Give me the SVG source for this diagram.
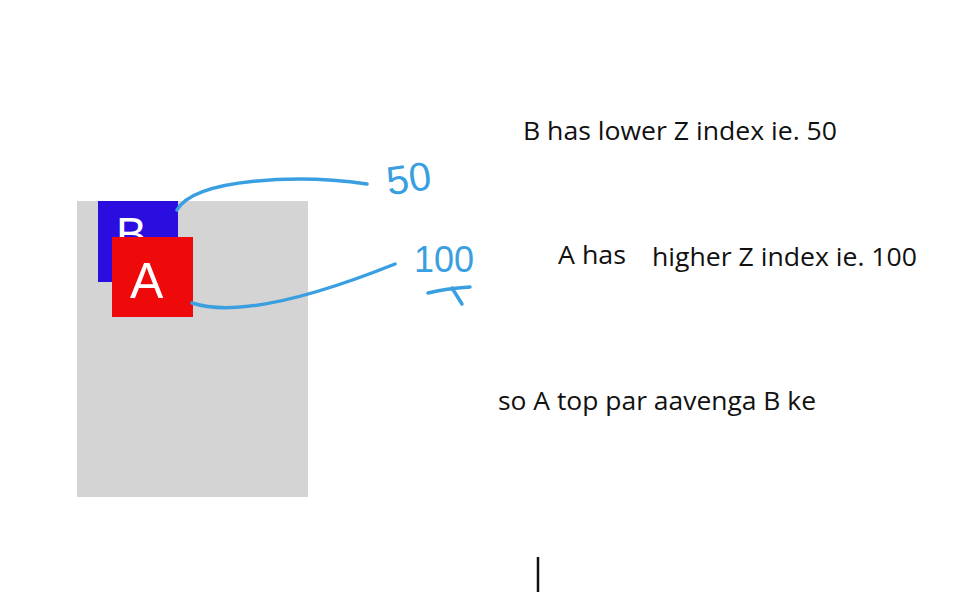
<svg xmlns="http://www.w3.org/2000/svg" width="975" height="595" viewBox="0 0 975 595">
<style>
.t{font-family:"Open Sans","Liberation Sans",sans-serif;font-size:26px;fill:#111}
.hw{font-family:"Liberation Sans",sans-serif;fill:#3a9fe0}
.ink{fill:none;stroke:#3a9fe0;stroke-width:3.5;stroke-linecap:round}
</style>
<rect width="975" height="595" fill="#fff"/>
<g id="container"><rect x="77" y="201" width="231" height="296" fill="#d4d4d4"/></g>
<g id="nodeB"><rect x="98" y="201" width="80" height="81" fill="#2a0ee0"/><text x="116" y="250" font-family="Liberation Sans,sans-serif" font-size="46" fill="#fff">B</text></g>
<g id="nodeA"><rect x="112" y="237" width="81" height="80" fill="#ee0a0a"/><text x="130" y="298" font-family="Liberation Sans,sans-serif" font-size="50" fill="#fff">A</text></g>
<g id="connectors">
<path class="ink" d="M177,210 C195,178 300,174 367,184"/>
<path class="ink" d="M192,303 C232,316 300,302 395,264"/>
<path class="ink" d="M428,293 C440,290 455,288 470,287 M452,288 L462,304"/>
</g>
<g id="labels">
<text class="hw" x="386" y="192" font-size="40" transform="rotate(-8 410 175)">50</text>
<text class="hw" x="414" y="272" font-size="36">100</text>
<text class="t" x="523" y="140" textLength="314" lengthAdjust="spacingAndGlyphs">B has lower Z index ie. 50</text>
<text class="t" x="558" y="264" textLength="68" lengthAdjust="spacingAndGlyphs">A has</text>
<text class="t" x="652" y="266" textLength="265" lengthAdjust="spacingAndGlyphs">higher Z index ie. 100</text>
<text class="t" x="498" y="410" textLength="318" lengthAdjust="spacingAndGlyphs">so A top par aavenga B ke</text>
</g>
<line x1="538" y1="557" x2="538" y2="592" stroke="#111" stroke-width="2.5"/>
</svg>
